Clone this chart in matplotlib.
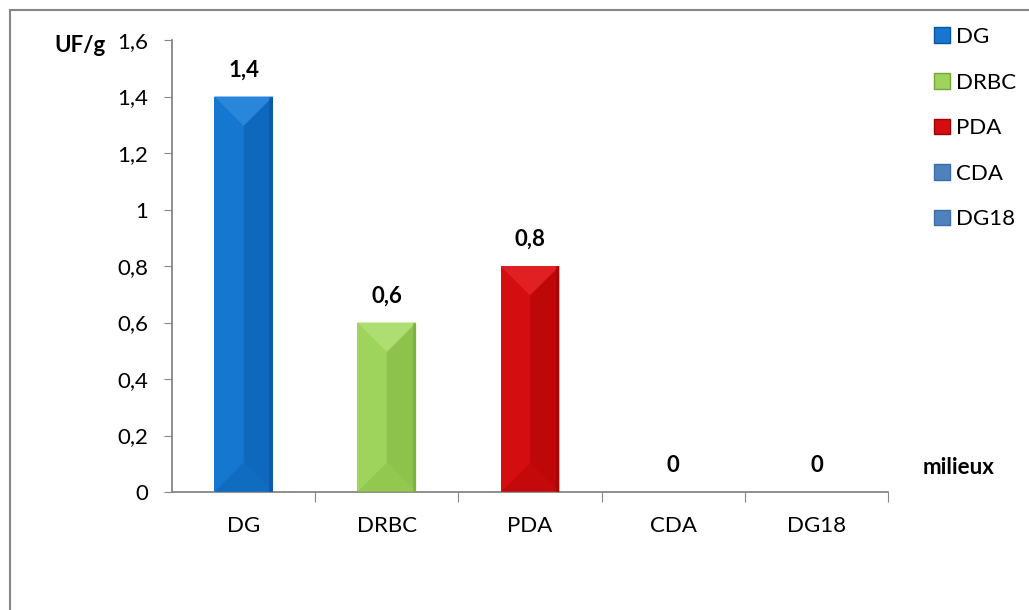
import matplotlib
matplotlib.use("Agg")
import matplotlib.pyplot as plt
from matplotlib.patches import Patch, Polygon, Rectangle

plt.rcParams["font.family"] = ["Lato", "DejaVu Sans"]

# data
milieux = ["DG", "DRBC", "PDA", "CDA", "DG18"]
uf_g = [1.4, 0.6, 0.8, 0, 0]
value_labels = ["1,4", "0,6", "0,8", "0", "0"]
y_ticks = [0, 0.2, 0.4, 0.6, 0.8, 1.0, 1.2, 1.4, 1.6]
y_tick_labels = ["0", "0,2", "0,4", "0,6", "0,8", "1", "1,2", "1,4", "1,6"]

colors = ["#1577D0", "#9ED45C", "#D40E10", "#4F81BD", "#4F81BD"]
dark = ["#0E68BC", "#8DC34C", "#BD0708", "#3D6DA6", "#3D6DA6"]
light = ["#2A86DA", "#AEDE72", "#E02022", "#6A96CC", "#6A96CC"]
edge = ["#0A5499", "#76A63A", "#9A0404", "#3D6DA6", "#3D6DA6"]

fig = plt.figure(figsize=(10.29, 6.10), dpi=100)
# outer chart frame (only left/top edge visible in the crop)
fig.patches.append(Rectangle((10 / 1029, -0.1), 1.2, 1 - 10 / 610 + 0.1,
                             transform=fig.transFigure, fill=False,
                             edgecolor="#868686", linewidth=1.5))

ax = fig.add_axes([172 / 1029, 1 - 492 / 610, 716 / 1029, 452 / 610])
x = list(range(len(milieux)))
width = 0.41
bars = ax.bar(x, uf_g, width=width, color=colors, zorder=2)

ax.set_xlim(-0.5, len(milieux) - 0.5)
ax.set_ylim(0, 1.6)

# bevel depth in data units so the facets are 45 degrees on screen
px_x = 716 / 5
px_y = 452 / 1.6
d = (width / 2) * px_x / px_y

for i, v in enumerate(uf_g):
    if v <= 0:
        continue
    x0, x1 = i - width / 2, i + width / 2
    dd = min(d, v / 2)
    ax.add_patch(Polygon([(i, dd), (x1, 0), (x1, v), (i, v - dd)], closed=True,
                         facecolor=dark[i], edgecolor="none", zorder=3))
    ax.add_patch(Polygon([(x0, v), (x1, v), (i, v - dd)], closed=True,
                         facecolor=light[i], edgecolor="none", zorder=3))
    ax.add_patch(Polygon([(x0, 0), (x1, 0), (i, dd)], closed=True,
                         facecolor=dark[i], edgecolor="none", zorder=3, alpha=0.7))
    ax.add_patch(Rectangle((x1 - 0.025, 0), 0.025, v, facecolor=edge[i],
                           edgecolor="none", zorder=4, alpha=0.6))

for i, v in enumerate(uf_g):
    ax.annotate(value_labels[i], (i, v), xytext=(0, 19), textcoords="offset points",
                ha="center", va="center", fontsize=16, fontweight="bold")

for s in ["top", "right"]:
    ax.spines[s].set_visible(False)
for s in ["left", "bottom"]:
    ax.spines[s].set_color("#868686")
    ax.spines[s].set_linewidth(1.3)

ax.set_yticks(y_ticks)
ax.set_yticklabels(y_tick_labels, fontsize=16)
ax.tick_params(axis="y", length=6, color="#868686", pad=11)

ax.set_xticks([i + 0.5 for i in range(len(milieux))], minor=False)
ax.set_xticklabels([])
ax.tick_params(axis="x", which="major", length=7, color="#868686", direction="out")
ax.set_xticks(x, minor=True)
ax.set_xticklabels(milieux, minor=True, fontsize=16)
ax.tick_params(axis="x", which="minor", length=0, pad=17)

fig.text(80 / 1029, 1 - 46 / 610, "UF/g", ha="center", va="center",
         fontsize=16, fontweight="bold")
fig.text(959 / 1029, 1 - 467 / 610, "milieux", ha="center", va="center",
         fontsize=16, fontweight="bold")

handles = [Patch(facecolor=colors[i], edgecolor=edge[i], label=milieux[i])
           for i in range(len(milieux))]
fig.legend(handles=handles, loc="upper left", bbox_to_anchor=(934 / 1029, 1 - 27 / 610),
           bbox_transform=fig.transFigure, frameon=False, fontsize=16,
           handlelength=0.7, handleheight=0.7, handletextpad=0.3,
           labelspacing=1.15, borderpad=0, borderaxespad=0)

fig.savefig("out.png", dpi=100)
